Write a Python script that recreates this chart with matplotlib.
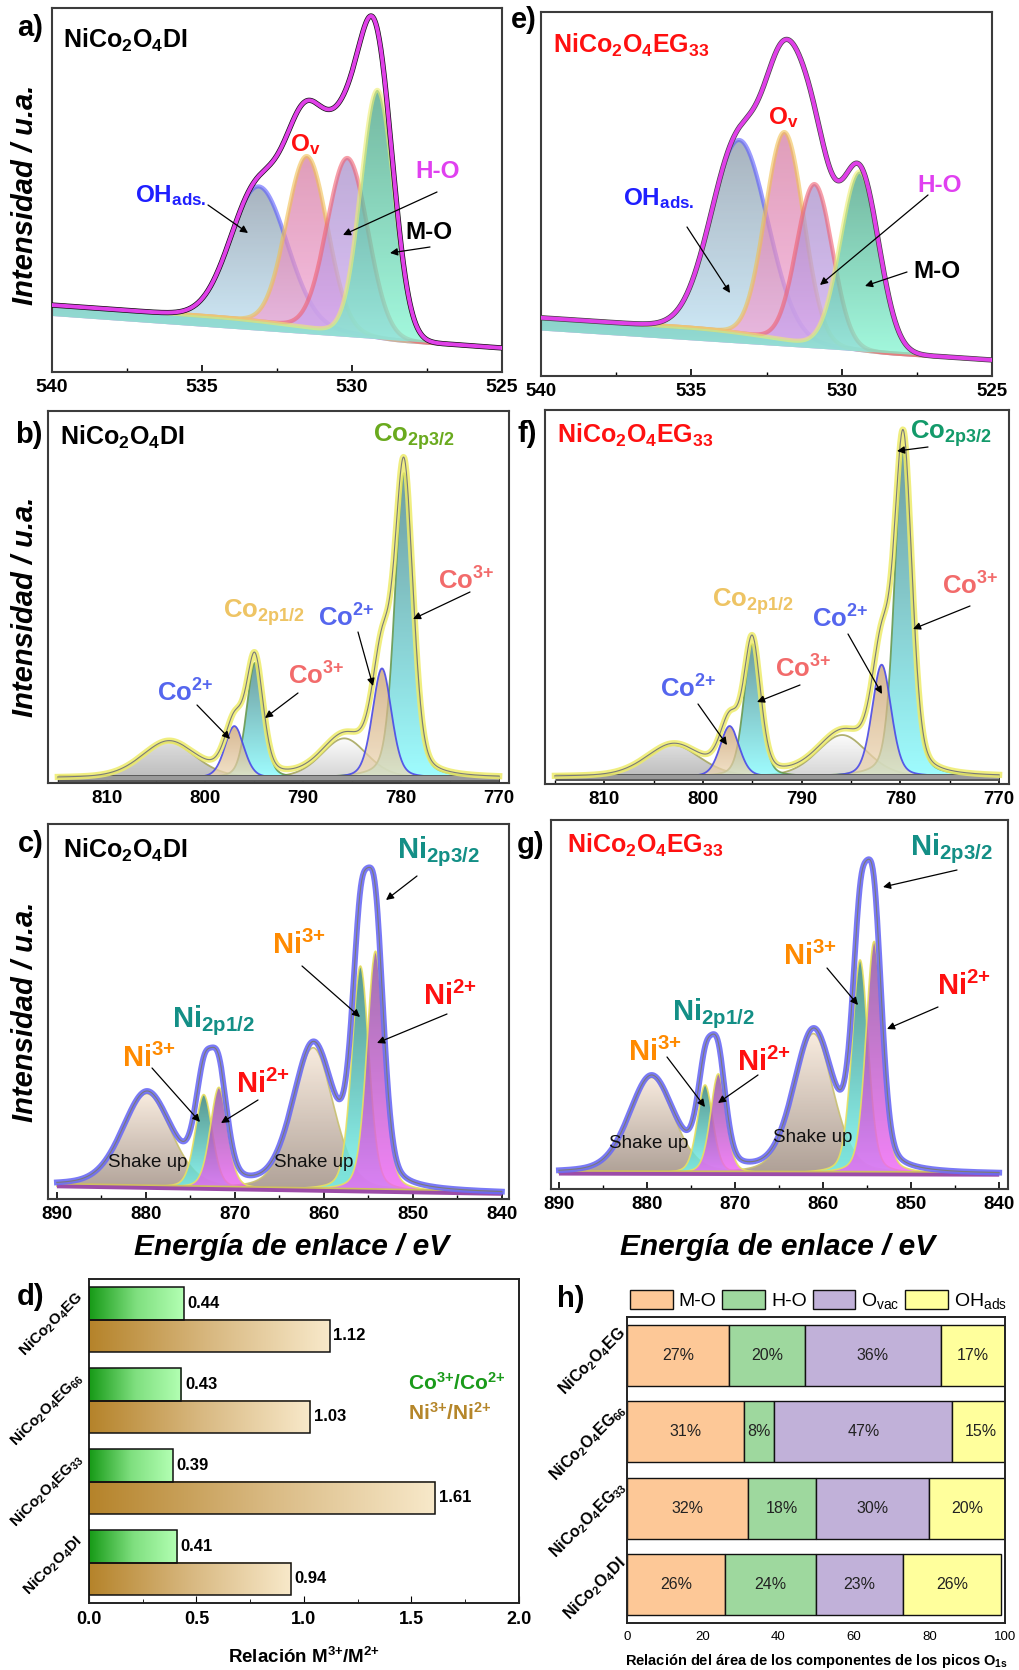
import numpy as np
import matplotlib
matplotlib.use('Agg')
import matplotlib.pyplot as plt
from matplotlib.colors import LinearSegmentedColormap
from matplotlib.patches import Patch
from matplotlib.ticker import MultipleLocator
import matplotlib.transforms as mtransforms

plt.rcParams['font.family'] = ['Liberation Sans', 'DejaVu Sans']
plt.rcParams['font.weight'] = 'bold'
plt.rcParams['mathtext.default'] = 'regular'

# ---- O 1s fits: centre (eV), height (a.u.), FWHM (eV) for OH_ads, O_v, H-O, M-O
o1s_di_center = [533.1, 531.5, 530.15, 529.15]
o1s_di_height = [37, 47, 48, 68]
o1s_di_fwhm = [2.2, 1.6, 1.6, 1.3]
o1s_di_background = [15.4, 6.6]      # linear background at 540 / 525 eV
o1s_di_shirley = 3.0

o1s_eg_center = [533.4, 531.9, 530.9, 529.4]
o1s_eg_height = [53, 57, 44, 49]
o1s_eg_fwhm = [2.2, 1.5, 1.4, 1.5]
o1s_eg_background = [12.5, 4.4]
o1s_eg_shirley = 3.5

# ---- Co 2p fits: satellite, Co2+, Co3+ (2p1/2), satellite, Co2+, Co3+ (2p3/2)
co_di_center = [803.7, 797.0, 794.9, 785.8, 781.95, 779.7]
co_di_height = [9.7, 14.0, 31.0, 10.7, 29.5, 82.0]
co_di_fwhm = [6.5, 2.3, 2.0, 5.5, 2.3, 2.2]
co_di_background = 1.3

co_eg_center = [803.0, 797.3, 795.0, 785.9, 781.9, 779.7]
co_eg_height = [8.5, 13.6, 35.5, 11.2, 30.0, 88.0]
co_eg_fwhm = [6.5, 2.3, 2.0, 6.0, 2.3, 2.1]
co_eg_background = 1.9

# ---- Ni 2p fits: shake-up, Ni3+, Ni2+ (2p1/2), shake-up, Ni3+, Ni2+ (2p3/2)
ni_di_center = [879.9, 873.5, 871.8, 861.2, 855.9, 854.2]
ni_di_height = [25, 25, 27, 38, 60, 64]
ni_di_fwhm = [6.5, 2.3, 2.3, 5.4, 2.3, 2.3]
ni_di_background = [3.5, 1.5]        # at 890 / 840 eV

ni_eg_center = [879.5, 873.4, 871.9, 861.1, 855.8, 854.2]
ni_eg_height = [26, 24, 27, 38, 58, 63]
ni_eg_fwhm = [6.0, 2.1, 2.1, 5.3, 2.2, 2.2]
ni_eg_background = [4.3, 4.0]

lorentz_fraction = 0.3   # Gaussian-Lorentzian mix used for the 2p fits

# ---- summary bars (bottom to top)
samples = ['NiCo$_2$O$_4$DI', 'NiCo$_2$O$_4$EG$_{33}$',
           'NiCo$_2$O$_4$EG$_{66}$', 'NiCo$_2$O$_4$EG']
co_ratio = [0.41, 0.39, 0.43, 0.44]
ni_ratio = [0.94, 1.61, 1.03, 1.12]

o1s_labels = ['M-O', 'H-O', 'O$_{vac}$', 'OH$_{ads}$']
share_mo = [26, 32, 31, 27]
share_ho = [24, 18, 8, 20]
share_ovac = [23, 30, 47, 36]
share_ohads = [26, 20, 15, 17]

W, H = 1020, 1670
fig = plt.figure(figsize=(W / 100, H / 100), dpi=100)


def rect(l, t, r, b):
    return [l / W, 1 - b / H, (r - l) / W, (b - t) / H]


def fxy(x, y):
    return (x / W, 1 - y / H)


def put(x, y, s, color='black', size=18, **kw):
    kw.setdefault('ha', 'left')
    kw.setdefault('va', 'baseline')
    fig.text(x / W, 1 - y / H, s, color=color, fontsize=size, zorder=20, **kw)


def arrow(ax, x0, y0, x1, y1):
    ax.annotate('', xy=fxy(x1, y1), xycoords='figure fraction',
                xytext=fxy(x0, y0), textcoords='figure fraction',
                arrowprops=dict(arrowstyle='-|>', color='black', lw=0.9,
                                mutation_scale=11, shrinkA=0, shrinkB=0),
                annotation_clip=False, zorder=20)


def profile(E, c, h, w, eta=0.0):
    s = w / 2.3548
    g = np.exp(-(E - c) ** 2 / (2 * s * s))
    l = 1.0 / (1.0 + ((E - c) / (w / 2)) ** 2)
    return h * ((1 - eta) * g + eta * l)


def grad_fill(ax, x, y0, y1, ctop, cbot, alpha, z):
    poly = ax.fill_between(x, y0, y1, facecolor='none', edgecolor='none', zorder=z)
    cmap = LinearSegmentedColormap.from_list('fill', [cbot, ctop])
    im = ax.imshow(np.linspace(0, 1, 256).reshape(-1, 1), cmap=cmap, origin='lower',
                   extent=[x.min(), x.max(), y0.min(), y1.max()], aspect='auto',
                   alpha=alpha, zorder=z, interpolation='bilinear')
    im.set_clip_path(poly.get_paths()[0], transform=ax.transData)


def draw_components(ax, E, floor, base, comps, order, fills, edges, edge_lw, alpha, edge_alpha):
    for n, k in enumerate(order):
        top = base + comps[k]
        grad_fill(ax, E, floor, top, fills[k][0], fills[k][1], alpha, 1 + 0.1 * n)
        ax.plot(E, top, color=edges[k], lw=edge_lw, alpha=edge_alpha, zorder=1.05 + 0.1 * n)
    return base + np.sum(comps, axis=0)


def style_xps(ax, xlim, major, minor, size):
    ax.set_xlim(*xlim)
    ax.set_ylim(0, 100)
    ax.xaxis.set_major_locator(MultipleLocator(major))
    ax.xaxis.set_minor_locator(MultipleLocator(minor))
    ax.tick_params(axis='x', which='both', direction='in', labelsize=size, pad=5)
    ax.tick_params(axis='x', which='major', length=5, width=1.2)
    ax.tick_params(axis='x', which='minor', length=3, width=1.0)
    ax.set_yticks([])
    for sp in ax.spines.values():
        sp.set_color('#3c3c3c')
        sp.set_linewidth(1.5)


# ---------------- O 1s panels ----------------
o_fills = [('#8796a6', '#bfe7fb'), ('#d4789f', '#f6aadc'),
           ('#a68cc8', '#d0a8f6'), ('#3e9c7c', '#80f8d2')]
o_edges = ['#5a5aff', '#f0c050', '#f06070', '#eeee70']


def o1s_panel(box_px, centers, heights, fwhms, bg_ends, shirley, raw_color, tick_size):
    ax = fig.add_axes(rect(*box_px))
    E = np.linspace(525, 540, 900)
    lin = bg_ends[1] + (E - 525) / 15.0 * (bg_ends[0] - bg_ends[1])
    comps = [profile(E, c, h, w) for c, h, w in zip(centers, heights, fwhms)]
    cum = np.cumsum(np.sum(comps, axis=0))
    base = lin + shirley * cum / cum[-1]
    env = draw_components(ax, E, lin, base, comps, range(4), o_fills, o_edges, 3.0, 0.72, 0.6)
    ax.plot(E, env, color=raw_color, lw=3.8, zorder=4)
    ax.plot(E, env, color='#e040e8', lw=2.8, zorder=5)
    style_xps(ax, (540, 525), 5, 2.5, tick_size)
    return ax


ax_a = o1s_panel((52, 8, 502, 372), o1s_di_center, o1s_di_height, o1s_di_fwhm,
                 o1s_di_background, o1s_di_shirley, '#111111', 14)
ax_e = o1s_panel((541, 12, 992, 376), o1s_eg_center, o1s_eg_height, o1s_eg_fwhm,
                 o1s_eg_background, o1s_eg_shirley, '#444444', 13.5)

# ---------------- Co 2p panels ----------------
co_kind = ['sat1', 'co2', 'co3', 'sat2', 'co2', 'co3']
co_fill_map = {'sat1': ('#d4d4d4', '#a6a6a6'), 'sat2': ('#fbfbfb', '#c6c6c6'),
               'co2': ('#c9a06e', '#efdab8'), 'co3': ('#3e7c7e', '#7ffcff')}
co_edge_map = {'sat1': '#a8a860', 'sat2': '#a8a860', 'co2': '#4a4ae8', 'co3': '#6a9a50'}


def co_panel(box_px, centers, heights, fwhms, bg):
    ax = fig.add_axes(rect(*box_px))
    E = np.linspace(770, 815, 900)
    base = np.full_like(E, bg)
    comps = [profile(E, c, h, w, lorentz_fraction) for c, h, w in zip(centers, heights, fwhms)]
    fills = [co_fill_map[k] for k in co_kind]
    edges = [co_edge_map[k] for k in co_kind]
    env = draw_components(ax, E, base, base, comps, [0, 3, 2, 5, 1, 4],
                          fills, edges, 1.3, 0.75, 0.9)
    ax.plot(E, base, color='#555555', lw=5, solid_capstyle='butt', zorder=3)
    ax.plot(E, base, color='#9a9a9a', lw=3, solid_capstyle='butt', zorder=3.1)
    ax.plot(E, env, color='#eeec6a', lw=4.5, alpha=0.85, zorder=4)
    ax.plot(E, env, color='#7a7a7a', lw=0.8, zorder=5)
    style_xps(ax, (816, 769), 10, 5, 13.5)
    return ax


ax_b = co_panel((48, 411, 509, 783), co_di_center, co_di_height, co_di_fwhm, co_di_background)
ax_f = co_panel((545, 410, 1009, 784), co_eg_center, co_eg_height, co_eg_fwhm, co_eg_background)

# ---------------- Ni 2p panels ----------------
ni_kind = ['shake', 'ni3', 'ni2', 'shake', 'ni3', 'ni2']
ni_fill_map = {'shake': ('#f7e7d7', '#9a887c'), 'ni3': ('#2e7c72', '#74fbf4'),
               'ni2': ('#8a4e9a', '#f064f6')}
ni_edge_map = {'shake': '#c8c070', 'ni3': '#e8e060', 'ni2': '#e8e060'}


def ni_panel(box_px, centers, heights, fwhms, bg_ends, xlim):
    ax = fig.add_axes(rect(*box_px))
    E = np.linspace(840, 890, 900)
    base = bg_ends[1] + (E - 840) / 50.0 * (bg_ends[0] - bg_ends[1])
    comps = [profile(E, c, h, w, lorentz_fraction) for c, h, w in zip(centers, heights, fwhms)]
    fills = [ni_fill_map[k] for k in ni_kind]
    edges = [ni_edge_map[k] for k in ni_kind]
    env = draw_components(ax, E, base, base, comps, [0, 3, 1, 4, 2, 5],
                          fills, edges, 1.2, 0.8, 0.9)
    ax.plot(E, base, color='#9c4ca8', lw=3.5, solid_capstyle='butt', zorder=3)
    ax.plot(E, base + 0.6, color='#d0c060', lw=1.2, solid_capstyle='butt', zorder=3.1)
    ax.plot(E, env, color='#6b6bf5', lw=4.2, alpha=0.9, zorder=4)
    ax.plot(E, env, color='#7a7a7a', lw=0.8, zorder=5)
    style_xps(ax, xlim, 10, 5, 13.5)
    return ax


ax_c = ni_panel((48, 824, 509, 1199), ni_di_center, ni_di_height, ni_di_fwhm,
                ni_di_background, (891, 839.2))
ax_g = ni_panel((551, 820, 1008, 1189), ni_eg_center, ni_eg_height, ni_eg_fwhm,
                ni_eg_background, (890.9, 839))

# ---------------- annotations on the spectra ----------------
blue, red, mag = '#1f1fff', '#ff1010', '#e040f0'
salmon, coblue, gold = '#f26b6b', '#5566ee', '#eec464'
teal, orange = '#138f86', '#ff8a00'
SUP2 = '$^{2{+}}$'
SUP3 = '$^{3{+}}$'

for x, y, s in [(17, 36, 'a)'), (511, 28, 'e)'), (15, 443, 'b)'), (518, 442, 'f)'),
                (18, 852, 'c)'), (517, 853, 'g)'), (17, 1305, 'd)'), (557, 1307, 'h)')]:
    put(x, y, s, size=21)

# a)
put(63, 48, 'NiCo$_2$O$_4$DI', size=18)
put(135, 202, 'OH$_{ads.}$', blue, 17.5)
put(290, 151, 'O$_v$', red, 17.5)
put(415, 178, 'H-O', mag, 17.5)
put(405, 239, 'M-O', 'black', 17.5)
arrow(ax_a, 208, 205, 248, 233)
arrow(ax_a, 437, 192, 343, 235)
arrow(ax_a, 430, 247, 390, 253)

# e)
put(553, 53, 'NiCo$_2$O$_4$EG$_{33}$', red, 18)
put(768, 124, 'O$_v$', red, 17.5)
put(623, 205, 'OH$_{ads.}$', blue, 17.5)
put(917, 192, 'H-O', mag, 17.5)
put(913, 278, 'M-O', 'black', 17.5)
arrow(ax_e, 687, 227, 730, 293)
arrow(ax_e, 928, 195, 820, 285)
arrow(ax_e, 907, 272, 865, 286)

# b)
put(60, 445, 'NiCo$_2$O$_4$DI', size=18)
put(373, 442, 'Co$_{2p3/2}$', '#6aaa1e', 18.5)
put(438, 590, 'Co' + SUP3, salmon, 18.5)
put(318, 627, 'Co' + SUP2, coblue, 18.5)
put(223, 618, 'Co$_{2p1/2}$', gold, 18.5)
put(288, 685, 'Co' + SUP3, salmon, 18.5)
put(157, 702, 'Co' + SUP2, coblue, 18.5)
arrow(ax_b, 470, 592, 413, 619)
arrow(ax_b, 358, 632, 373, 686)
arrow(ax_b, 298, 693, 265, 718)
arrow(ax_b, 197, 705, 230, 739)

# f)
put(557, 443, 'NiCo$_2$O$_4$EG$_{33}$', red, 18)
put(910, 439, 'Co$_{2p3/2}$', '#139a6a', 18.5)
put(942, 595, 'Co' + SUP3, salmon, 18.5)
put(812, 628, 'Co' + SUP2, coblue, 18.5)
put(712, 607, 'Co$_{2p1/2}$', gold, 18.5)
put(775, 678, 'Co' + SUP3, salmon, 18.5)
put(660, 698, 'Co' + SUP2, coblue, 18.5)
arrow(ax_f, 928, 447, 897, 451)
arrow(ax_f, 970, 606, 913, 629)
arrow(ax_f, 848, 634, 882, 694)
arrow(ax_f, 800, 685, 757, 702)
arrow(ax_f, 698, 704, 727, 745)

# c)
put(63, 858, 'NiCo$_2$O$_4$DI', size=18)
put(397, 858, 'Ni$_{2p3/2}$', teal, 21)
put(272, 954, 'Ni' + SUP3, orange, 21)
put(423, 1005, 'Ni' + SUP2, red, 21)
put(172, 1027, 'Ni$_{2p1/2}$', teal, 21)
put(122, 1067, 'Ni' + SUP3, orange, 21)
put(236, 1093, 'Ni' + SUP2, red, 21)
put(108, 1167, 'Shake up', '#111111', 13.5, fontweight='normal')
put(274, 1167, 'Shake up', '#111111', 13.5, fontweight='normal')
arrow(ax_c, 417, 876, 386, 900)
arrow(ax_c, 302, 966, 360, 1017)
arrow(ax_c, 447, 1014, 377, 1043)
arrow(ax_c, 152, 1068, 200, 1122)
arrow(ax_c, 258, 1100, 221, 1123)

# g)
put(567, 853, 'NiCo$_2$O$_4$EG$_{33}$', red, 18)
put(910, 855, 'Ni$_{2p3/2}$', teal, 21)
put(783, 965, 'Ni' + SUP3, orange, 21)
put(937, 995, 'Ni' + SUP2, red, 21)
put(672, 1020, 'Ni$_{2p1/2}$', teal, 21)
put(628, 1061, 'Ni' + SUP3, orange, 21)
put(737, 1071, 'Ni' + SUP2, red, 21)
put(609, 1148, 'Shake up', '#111111', 13.5, fontweight='normal')
put(773, 1142, 'Shake up', '#111111', 13.5, fontweight='normal')
arrow(ax_g, 957, 870, 883, 887)
arrow(ax_g, 827, 968, 858, 1005)
arrow(ax_g, 938, 1007, 887, 1029)
arrow(ax_g, 667, 1057, 705, 1107)
arrow(ax_g, 758, 1075, 718, 1103)

# shared axis titles
for yc in (195, 607, 1012):
    put(25, yc, 'Intensidad / u.a.', size=21, rotation=90, ha='center', va='center',
        style='italic')
put(292, 1255, 'Energía de enlace / eV', size=21.5, ha='center', style='italic')
put(778, 1255, 'Energía de enlace / eV', size=21.5, ha='center', style='italic')

# ---------------- d) M3+/M2+ ratios ----------------
ax_d = fig.add_axes(rect(89, 1279, 519, 1603))
ypos = np.arange(len(samples))
bar_h = 0.4
green_map = LinearSegmentedColormap.from_list('g', ['#169a16', '#7fdf7f', '#b3ffb3'])
tan_map = LinearSegmentedColormap.from_list('t', ['#b5832a', '#d8b880', '#f8e9ca'])
for i in range(len(samples)):
    for val, off, cmap in ((co_ratio[i], 0.2, green_map), (ni_ratio[i], -0.2, tan_map)):
        yc = ypos[i] + off
        ax_d.imshow(np.linspace(0, 1, 256).reshape(1, -1), cmap=cmap, aspect='auto',
                    extent=[0, val, yc - bar_h / 2, yc + bar_h / 2], zorder=2)
        ax_d.barh(yc, val, height=bar_h, color='none', edgecolor='#111111', lw=1.1, zorder=3)
        ax_d.annotate(f'{val:.2f}', (val, yc), xytext=(2.5, 0), textcoords='offset points',
                      ha='left', va='center', fontsize=12)
ax_d.set_xlim(0, 2.0)
ax_d.set_ylim(-0.5, len(samples) - 0.5)
ax_d.xaxis.set_major_locator(MultipleLocator(0.5))
ax_d.xaxis.set_minor_locator(MultipleLocator(0.25))
ax_d.tick_params(axis='x', which='both', direction='in', labelsize=13, pad=6)
ax_d.tick_params(axis='x', which='major', length=5)
ax_d.tick_params(axis='x', which='minor', length=3)
ax_d.set_yticks([])
for sp in ax_d.spines.values():
    sp.set_linewidth(1.4)
    sp.set_color('#222222')
lab_tr = mtransforms.blended_transform_factory(ax_d.transAxes, ax_d.transData)
for i, s in enumerate(samples):
    ax_d.text(-0.02, ypos[i] + 0.3, s, transform=lab_tr, rotation=45, rotation_mode='anchor',
              ha='right', va='center', fontsize=11)
put(408, 1390, 'Co' + SUP3 + '/Co' + SUP2, '#1a9a1a', 15)
put(408, 1420, 'Ni' + SUP3 + '/Ni' + SUP2, '#b5862a', 15)
put(304, 1663, 'Relación M' + SUP3 + '/M' + SUP2, size=13.5, ha='center')

# ---------------- h) O 1s component shares ----------------
ax_h = fig.add_axes(rect(627, 1317, 1005, 1623))
seg_colors = ['#fdc897', '#9ed89e', '#c1b1d9', '#ffff9c']
left = np.zeros(len(samples))
handles = []
for vals, col, lab in zip((share_mo, share_ho, share_ovac, share_ohads), seg_colors, o1s_labels):
    vals = np.asarray(vals, dtype=float)
    ax_h.barh(ypos, vals, left=left, height=0.8, color=col, edgecolor='#111111', lw=1.0, zorder=2)
    for yi, l0, v in zip(ypos, left, vals):
        ax_h.text(l0 + v / 2, yi, f'{v:.0f}%', ha='center', va='center', fontsize=11.5,
                  fontweight='normal', color='#222222', zorder=3)
    left += vals
    handles.append(Patch(facecolor=col, edgecolor='#111111', lw=1.0, label=lab))
ax_h.set_xlim(0, 100)
ax_h.set_ylim(-0.5, len(samples) - 0.5)
ax_h.set_xticks([0, 20, 40, 60, 80, 100])
ax_h.set_xticklabels(['0', '20', '40', '60', '80', '100'], fontweight='normal', fontsize=9.5)
ax_h.tick_params(axis='x', length=0, pad=6)
ax_h.set_yticks([])
for sp in ax_h.spines.values():
    sp.set_linewidth(1.4)
    sp.set_color('#222222')
lab_tr_h = mtransforms.blended_transform_factory(ax_h.transAxes, ax_h.transData)
for i, s in enumerate(samples):
    ax_h.text(-0.01, ypos[i] + 0.32, s, transform=lab_tr_h, rotation=45, rotation_mode='anchor',
              ha='right', va='center', fontsize=11.5)
fig.legend(handles=handles, loc='lower left', bbox_to_anchor=fxy(630, 1311), ncol=4,
           frameon=False, prop=dict(size=14, weight='normal'), handlelength=2.2,
           handleheight=1.15, handletextpad=0.3, columnspacing=0.3, borderpad=0,
           borderaxespad=0)
put(816, 1665, 'Relación del área de los componentes de los picos O$_{1s}$', size=10.5,
    ha='center')

fig.savefig('out.png', dpi=100)
